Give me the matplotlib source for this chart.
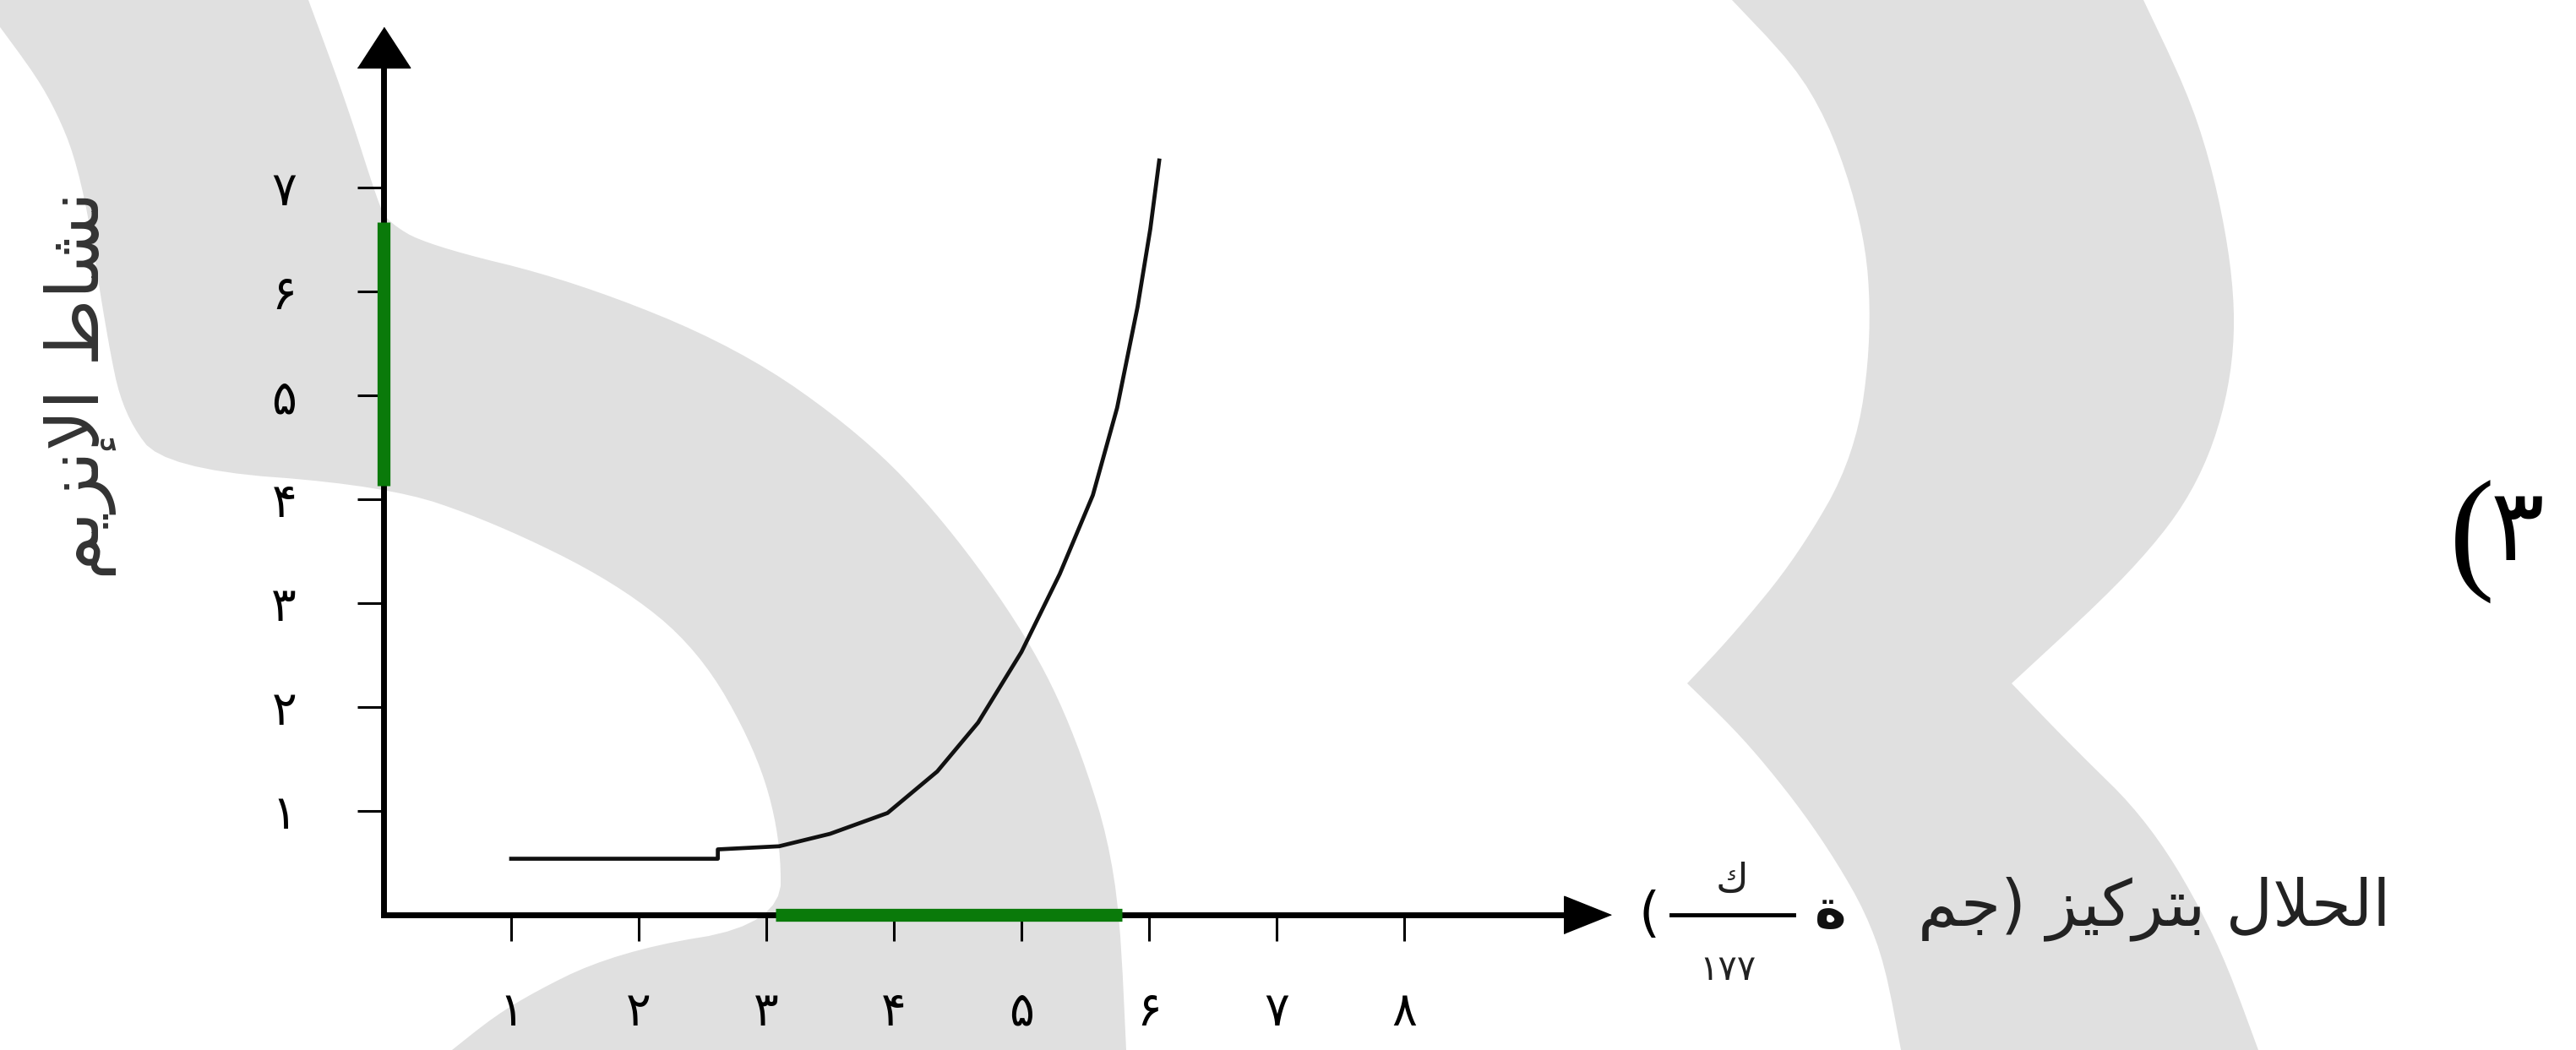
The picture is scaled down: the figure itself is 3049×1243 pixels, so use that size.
import matplotlib
matplotlib.use("Agg")
import matplotlib.pyplot as plt
from matplotlib.patches import Polygon
from matplotlib.lines import Line2D

# ---------------- data ----------------
curve_x = [1.0, 2.62, 2.62, 3.1, 3.5, 3.95, 4.34, 4.66, 5.0, 5.3, 5.56, 5.75, 5.91, 6.01, 6.08]
curve_y = [0.54, 0.54, 0.63, 0.66, 0.78, 0.98, 1.38, 1.85, 2.53, 3.28, 4.04, 4.88, 5.85, 6.6, 7.26]
x_ticks = [1, 2, 3, 4, 5, 6, 7, 8]
x_tick_labels = ['۱', '۲', '۳', '۴', '۵', '۶', '۷', '۸']
y_ticks = [1, 2, 3, 4, 5, 6, 7]
y_tick_labels = ['۱', '۲', '۳', '۴', '۵', '۶', '۷']
green_x_range = [3.07, 5.79]
green_y_range = [4.13, 6.67]
y_label = 'نشاط الإنزيم'
x_label = 'الحلال بتركيز (جم'
x_unit_num = 'ك'
x_unit_den = '۱۷۷'
x_unit_mid = 'ة'
panel_label = '٣'

# ---------------- minimal Arabic shaping ----------------
FORMS = {}
def _four(c, b):
    FORMS[c] = (b, b + 1, b + 2, b + 3)
def _two(c, b):
    FORMS[c] = (b, b + 1)
for c, b in [('ا', 0xFE8D), ('أ', 0xFE83), ('إ', 0xFE87), ('آ', 0xFE81), ('ة', 0xFE93),
             ('د', 0xFEA9), ('ذ', 0xFEAB), ('ر', 0xFEAD), ('ز', 0xFEAF), ('و', 0xFEED), ('ى', 0xFEEF)]:
    _two(c, b)
for c, b in [('ب', 0xFE8F), ('ت', 0xFE95), ('ث', 0xFE99), ('ج', 0xFE9D), ('ح', 0xFEA1), ('خ', 0xFEA5),
             ('س', 0xFEB1), ('ش', 0xFEB5), ('ص', 0xFEB9), ('ض', 0xFEBD), ('ط', 0xFEC1), ('ظ', 0xFEC5),
             ('ع', 0xFEC9), ('غ', 0xFECD), ('ف', 0xFED1), ('ق', 0xFED5), ('ك', 0xFED9), ('ل', 0xFEDD),
             ('م', 0xFEE1), ('ن', 0xFEE5), ('ه', 0xFEE9), ('ي', 0xFEF1)]:
    _four(c, b)
LAMALEF = {'ا': 0xFEFB, 'أ': 0xFEF7, 'إ': 0xFEF9, 'آ': 0xFEF5}

def shape(text):
    def dual(ch):
        return ch in FORMS and len(FORMS[ch]) == 4
    out = []
    n = len(text)
    i = 0
    while i < n:
        ch = text[i]
        prev = text[i - 1] if i > 0 else ''
        jp = ch in FORMS and dual(prev)
        if ch == 'ل' and i + 1 < n and text[i + 1] in LAMALEF:
            out.append(chr(LAMALEF[text[i + 1]] + (1 if jp else 0)))
            i += 2
            continue
        if ch not in FORMS:
            out.append(ch)
            i += 1
            continue
        f = FORMS[ch]
        nxt = text[i + 1] if i + 1 < n else ''
        jn = len(f) == 4 and nxt in FORMS
        if jp and jn:
            g = f[3]
        elif jp:
            g = f[1]
        elif jn:
            g = f[2]
        else:
            g = f[0]
        out.append(chr(g))
        i += 1
    vis = ''.join(reversed(out))
    return vis.translate(str.maketrans('()', ')('))

# ---------------- figure ----------------
plt.rcParams['font.family'] = ['DejaVu Sans']
W, H = 3049, 1243
fig = plt.figure(figsize=(W / 100, H / 100), dpi=100)
fig.patch.set_facecolor('white')

def fx(px):
    return px / W
def fy(py):
    return 1 - py / H

def chaikin(pts, fixed, it=3):
    for _ in range(it):
        new, nf = [], []
        n = len(pts)
        for i in range(n):
            p, a, b = pts[i], pts[i - 1], pts[(i + 1) % n]
            if fixed[i]:
                new.append(p)
                nf.append(True)
            else:
                new.append((0.75 * p[0] + 0.25 * a[0], 0.75 * p[1] + 0.25 * a[1]))
                new.append((0.75 * p[0] + 0.25 * b[0], 0.75 * p[1] + 0.25 * b[1]))
                nf += [False, False]
        pts, fixed = new, nf
    return pts

# light grey watermark shapes (decoration, in image pixel coordinates)
wm_left = [(0, 0), (365, 0), (409, 119), (447, 238), (458, 262), (505, 290), (681, 333), (875, 412),
           (1021, 515), (1119, 618), (1216, 753), (1274, 872), (1323, 1031), (1333, 1243), (535, 1243),
           (603, 1189), (730, 1126), (924, 1094), (924, 991), (895, 888), (827, 769), (730, 690),
           (584, 618), (457, 575), (195, 555), (146, 491), (126, 396), (97, 206), (58, 111), (0, 32)]
wm_left_fixed = {(0, 0), (365, 0), (1333, 1243), (535, 1243), (0, 32)}
wm_right = [(2050, 0), (2148, 103), (2206, 262), (2216, 396), (2196, 539), (2128, 658), (2050, 753),
            (1997, 809), (2070, 880), (2157, 991), (2225, 1110), (2250, 1243), (2673, 1243), (2624, 1110),
            (2546, 975), (2449, 880), (2381, 809), (2527, 674), (2605, 571), (2644, 444), (2644, 317),
            (2605, 143), (2537, 0)]
wm_right_fixed = {(2050, 0), (1997, 809), (2250, 1243), (2673, 1243), (2381, 809), (2537, 0)}
for poly, fixset in ((wm_left, wm_left_fixed), (wm_right, wm_right_fixed)):
    sm = chaikin(poly, [p in fixset for p in poly], 3)
    fig.patches.append(Polygon([(fx(a), fy(b)) for a, b in sm], closed=True,
                               transform=fig.transFigure, facecolor='#e0e0e0',
                               edgecolor='none', zorder=-5))

ox, oy = 454, 1083
ux, uy = 151, 123
xmax, ymax = 9.44, 8.35
ax = fig.add_axes([fx(ox), fy(oy), xmax * ux / W, ymax * uy / H])
ax.patch.set_alpha(0)
ax.set_xlim(0, xmax)
ax.set_ylim(0, ymax)
for s in ('top', 'right'):
    ax.spines[s].set_visible(False)
for s in ('left', 'bottom'):
    ax.spines[s].set_linewidth(5)
    ax.spines[s].set_color('black')

ax.set_xticks(x_ticks)
ax.set_xticklabels(x_tick_labels)
ax.set_yticks(y_ticks)
ax.set_yticklabels(y_tick_labels)
ax.tick_params(axis='both', direction='out', length=22, width=2.2, color='black',
               labelsize=40, labelcolor='black')
ax.tick_params(axis='x', pad=42)
ax.tick_params(axis='y', pad=52)

# axis arrow heads
ax.plot(1, 0, marker=[(-0.5, -0.4), (-0.5, 0.4), (0.5, 0)], ms=40, color='black',
        transform=ax.get_yaxis_transform(), clip_on=False)
ax.plot(0, 1, marker=[(-0.65, -0.5), (0.65, -0.5), (0, 0.5)], ms=45, color='black',
        transform=ax.get_xaxis_transform(), clip_on=False)

# green highlights
ax.plot(green_x_range, [0, 0], color='#0a7a0a', lw=11, solid_capstyle='butt', clip_on=False, zorder=5)
ax.plot([0, 0], green_y_range, color='#0a7a0a', lw=11, solid_capstyle='butt', clip_on=False, zorder=5)

# curve
ax.plot(curve_x, curve_y, color='#111111', lw=3.4, zorder=4)

# y label (vertical)
fig.text(fx(95), fy(456), shape(y_label), rotation=90, fontsize=62, color='#333333',
         ha='center', va='center')

# x label pieces
fig.text(fx(2830), fy(1076), shape(x_label), fontsize=55, color='#222222', ha='right', va='center')
fig.text(fx(2167), fy(1080), shape(x_unit_mid), fontsize=46, fontweight='bold', color='#111111',
         ha='center', va='center')
fig.text(fx(2050), fy(1043), shape(x_unit_num), fontsize=34, color='#222222', ha='center', va='center')
fig.text(fx(2045), fy(1148), x_unit_den, fontsize=30, color='#222222', ha='center', va='center')
fig.lines.append(Line2D([fx(1978), fx(2123)], [fy(1083), fy(1083)], transform=fig.transFigure,
                        color='black', lw=3.5))
fig.text(fx(1952), fy(1084), '(', fontsize=46, color='black', ha='center', va='center')

# panel label
fig.text(fx(2926), fy(642), '(', fontsize=116, family=['Liberation Serif', 'DejaVu Sans'],
         color='black', ha='center', va='center')
fig.text(fx(2980), fy(630), panel_label, fontsize=86, color='black', ha='center', va='center')

fig.savefig('out.png', dpi=100, facecolor='white')
